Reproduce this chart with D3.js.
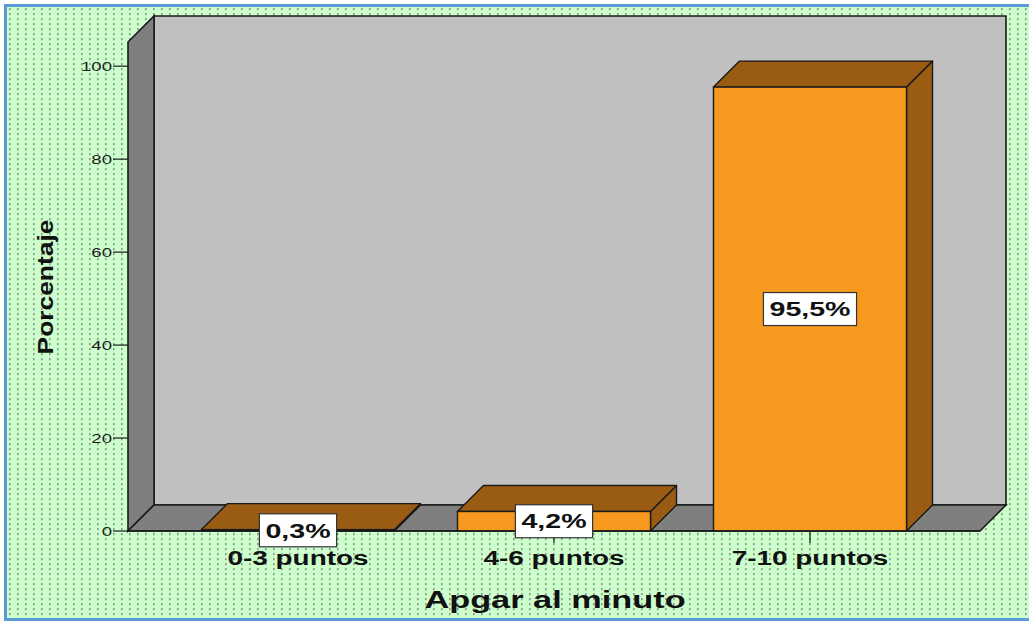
<!DOCTYPE html>
<html>
<head>
<meta charset="utf-8">
<script src="https://cdn.jsdelivr.net/npm/d3@7"></script>
<style>
  html, body { margin: 0; padding: 0; background: #ffffff; }
  svg { display: block; }
  text { font-family: "Liberation Sans", Arial, sans-serif; }
</style>
</head>
<body>
<script>
// Apgar score at one minute, percentage of newborns per score range
const categories = ["0-3 puntos", "4-6 puntos", "7-10 puntos"];
const values = [0.3, 4.2, 95.5];
const valueLabels = ["0,3%", "4,2%", "95,5%"];
const yTicks = [0, 20, 40, 60, 80, 100];
const xTitle = "Apgar al minuto";
const yTitle = "Porcentaje";

const W = 1029, H = 621;
const SX = 1.43;             // horizontal text stretch
const depthX = 26, depthY = 26;

const svg = d3.select("body").append("svg")
  .attr("width", W).attr("height", H);

// dotted green background
const defs = svg.append("defs");
const pat = defs.append("pattern")
  .attr("id", "dots").attr("patternUnits", "userSpaceOnUse")
  .attr("x", 9).attr("y", 8).attr("width", 8).attr("height", 5);
pat.append("rect").attr("width", 8).attr("height", 5).attr("fill", "#ccffcc");
pat.append("rect").attr("x", 0).attr("y", 0).attr("width", 1.6).attr("height", 2.2).attr("fill", "#8a9a8a");

svg.append("rect").attr("x", 5.5).attr("y", 5.5).attr("width", W + 10).attr("height", H - 7)
  .attr("fill", "url(#dots)").attr("stroke", "#5b9bd5").attr("stroke-width", 3);

// scales (front plane)
const y = d3.scaleLinear().domain([0, 105.2]).range([531, 42]);
const x = d3.scaleBand().domain(categories).range([170, 938]).paddingInner(0.246).paddingOuter(0.123);
const x0 = 128, x1 = 980;
const y0 = y(0), yTop = y(105.2);

const edge = "#1a1a1a";
const pts = p => p.map(d => d.join(",")).join(" ");

// back wall
svg.append("polygon")
  .attr("points", pts([[x0 + depthX, yTop - depthY], [x1 + depthX, yTop - depthY], [x1 + depthX, y0 - depthY], [x0 + depthX, y0 - depthY]]))
  .attr("fill", "#c0c0c0").attr("stroke", edge).attr("stroke-width", 1.6);
// left wall
svg.append("polygon")
  .attr("points", pts([[x0, y0], [x0, yTop], [x0 + depthX, yTop - depthY], [x0 + depthX, y0 - depthY]]))
  .attr("fill", "#7f7f7f").attr("stroke", edge).attr("stroke-width", 1.6);
// floor
svg.append("polygon")
  .attr("points", pts([[x0, y0], [x0 + depthX, y0 - depthY], [x1 + depthX, y0 - depthY], [x1, y0]]))
  .attr("fill", "#7f7f7f").attr("stroke", edge).attr("stroke-width", 1.6);

// y axis ticks and labels
const yAxis = svg.append("g");
yTicks.forEach(t => {
  yAxis.append("line").attr("x1", 113).attr("x2", x0).attr("y1", y(t)).attr("y2", y(t))
    .attr("stroke", edge).attr("stroke-width", 1.2);
  yAxis.append("text")
    .attr("transform", `translate(112,${y(t) + 4.5}) scale(${SX},1)`)
    .attr("text-anchor", "end").attr("font-size", 13).attr("fill", "#222")
    .text(t);
});

// category ticks
categories.forEach(c => {
  const cx = x(c) + x.bandwidth() / 2;
  svg.append("line").attr("x1", cx).attr("x2", cx).attr("y1", y0).attr("y2", y0 + 12)
    .attr("stroke", edge).attr("stroke-width", 1.2);
});

// 3D bars
const bars = svg.append("g");
categories.forEach((c, i) => {
  const bx = x(c), bw = x.bandwidth(), by = y(values[i]);
  const g = bars.append("g");
  // right side
  g.append("polygon")
    .attr("points", pts([[bx + bw, y0], [bx + bw, by], [bx + bw + depthX, by - depthY], [bx + bw + depthX, y0 - depthY]]))
    .attr("fill", "#9a5b12").attr("stroke", edge).attr("stroke-width", 1.4).attr("stroke-linejoin", "round");
  // top
  g.append("polygon")
    .attr("points", pts([[bx, by], [bx + depthX, by - depthY], [bx + bw + depthX, by - depthY], [bx + bw, by]]))
    .attr("fill", "#9a5b12").attr("stroke", edge).attr("stroke-width", 1.4).attr("stroke-linejoin", "round");
  // front
  g.append("rect").attr("x", bx).attr("y", by).attr("width", bw).attr("height", y0 - by)
    .attr("fill", "#f7991f").attr("stroke", edge).attr("stroke-width", 1.4);
});

// front axis line
svg.append("line").attr("x1", x0).attr("x2", x1).attr("y1", y0).attr("y2", y0)
  .attr("stroke", edge).attr("stroke-width", 1.6);

// value labels in boxes
categories.forEach((c, i) => {
  const cx = x(c) + x.bandwidth() / 2;
  const cy = (y(values[i]) + y0) / 2;
  const g = svg.append("g");
  const t = g.append("text")
    .attr("transform", `translate(${cx},${cy}) scale(${SX},1)`)
    .attr("text-anchor", "middle").attr("dy", "0.36em")
    .attr("font-size", 20).attr("font-weight", "bold").attr("fill", "#111")
    .text(valueLabels[i]);
  const bb = t.node().getBBox();
  const w = bb.width * SX + 12, h = 33;
  g.insert("rect", "text")
    .attr("x", cx - w / 2).attr("y", cy - h / 2).attr("width", w).attr("height", h)
    .attr("fill", "#ffffff").attr("stroke", "#333").attr("stroke-width", 1.2);
});

// category labels
categories.forEach(c => {
  const cx = x(c) + x.bandwidth() / 2;
  svg.append("text")
    .attr("transform", `translate(${cx},565) scale(${SX},1)`)
    .attr("text-anchor", "middle").attr("font-size", 19.5).attr("font-weight", "bold").attr("fill", "#111")
    .text(c);
});

// axis titles
svg.append("text")
  .attr("transform", `translate(555,608) scale(${SX},1)`)
  .attr("text-anchor", "middle").attr("font-size", 24).attr("font-weight", "bold").attr("fill", "#111")
  .text(xTitle);

svg.append("text")
  .attr("transform", `translate(53,287) rotate(-90) scale(1.2,1)`)
  .attr("text-anchor", "middle").attr("font-size", 22).attr("font-weight", "bold").attr("fill", "#111")
  .text(yTitle);
</script>
</body>
</html>
